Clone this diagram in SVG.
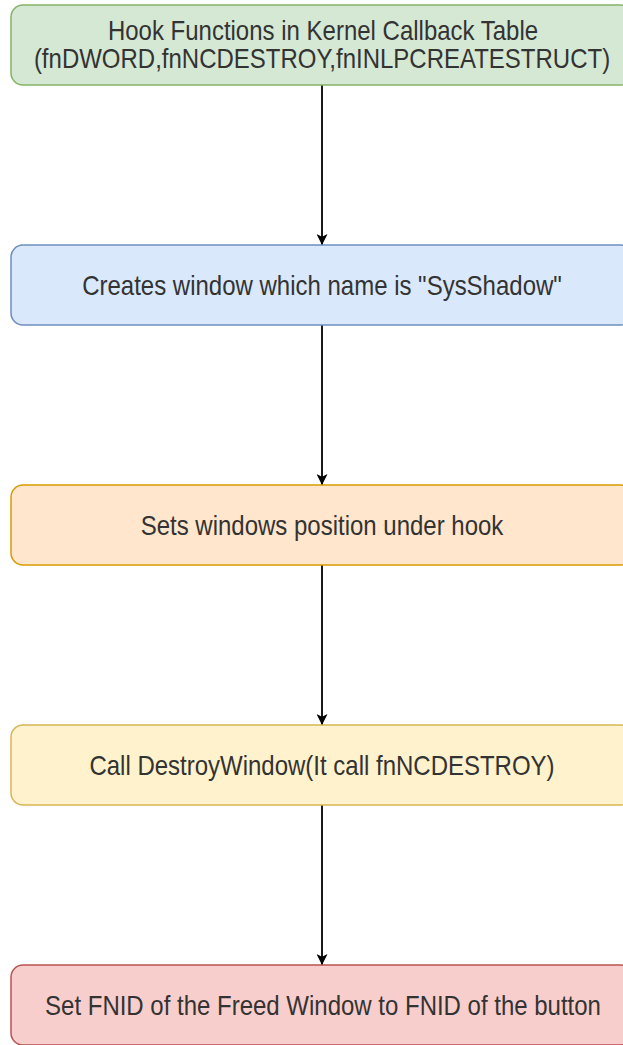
<svg xmlns="http://www.w3.org/2000/svg" width="623" height="1045" viewBox="0 0 623 1045">
<defs>
<marker id="arr" viewBox="0 0 10 10" refX="10" refY="5" markerWidth="11" markerHeight="11" markerUnits="userSpaceOnUse" orient="auto">
<path d="M0,0 L10,5 L0,10 L2.5,5 Z" fill="#000"/>
</marker>
<style>
.box{stroke-width:1.5}
.t{font-family:"Liberation Sans",Arial,sans-serif;font-size:24px;fill:#333;text-anchor:middle;dominant-baseline:central}
.c{stroke:#000;stroke-width:1.8;fill:none;marker-end:url(#arr)}
</style>
</defs>
<rect width="623" height="1045" fill="#fff"/>
<g id="connectors">
<line class="c" x1="322" y1="85" x2="322" y2="245"/>
<line class="c" x1="322" y1="325" x2="322" y2="485"/>
<line class="c" x1="322" y1="565" x2="322" y2="725"/>
<line class="c" x1="322" y1="805" x2="322" y2="965"/>
</g>
<g id="n1">
<rect class="box" x="11" y="5" width="622" height="80" rx="12" fill="#d5e8d4" stroke="#82b366"/>
<text class="t" transform="translate(323,30.5) scale(1,1.12)">Hook Functions in Kernel Callback Table</text>
<text class="t" transform="translate(322,58.5) scale(1,1.12)">(fnDWORD,fnNCDESTROY,fnINLPCREATESTRUCT)</text>
</g>
<g id="n2">
<rect class="box" x="11" y="245" width="622" height="80" rx="12" fill="#dae8fc" stroke="#6c8ebf"/>
<text class="t" transform="translate(322,285) scale(1,1.14)">Creates window which name is "SysShadow"</text>
</g>
<g id="n3">
<rect class="box" x="11" y="485" width="622" height="80" rx="12" fill="#ffe6cc" stroke="#d79b00"/>
<text class="t" transform="translate(322,525) scale(1,1.14)">Sets windows position under hook</text>
</g>
<g id="n4">
<rect class="box" x="11" y="725" width="622" height="80" rx="12" fill="#fff2cc" stroke="#d6b656"/>
<text class="t" transform="translate(322,765) scale(1,1.14)">Call DestroyWindow(It call fnNCDESTROY)</text>
</g>
<g id="n5">
<rect class="box" x="11" y="965" width="622" height="80" rx="12" fill="#f8cecc" stroke="#b85450"/>
<text class="t" transform="translate(323,1005) scale(1,1.14)">Set FNID of the Freed Window to FNID of the button</text>
</g>
</svg>
